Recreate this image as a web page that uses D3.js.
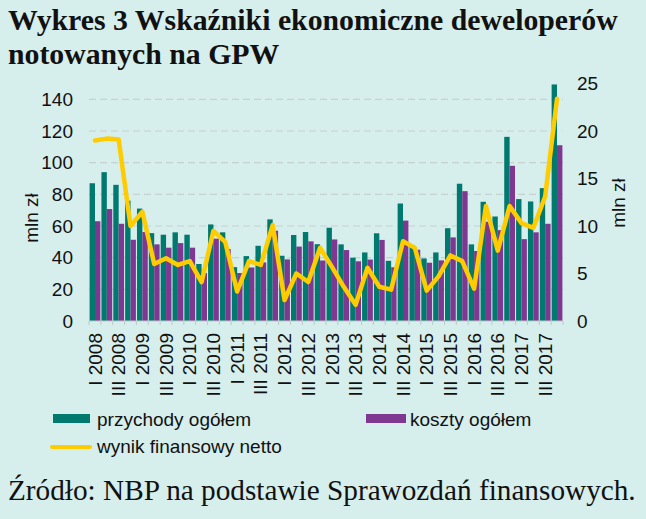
<!DOCTYPE html>
<html><head><meta charset="utf-8">
<script src="https://cdn.jsdelivr.net/npm/d3@7"></script>
<style>
html,body{margin:0;padding:0;background:#D6EEEC;}
svg{display:block;}
</style></head>
<body>
<script>
const categories = [
 "I 2008","II 2008","III 2008","IV 2008","I 2009","II 2009","III 2009","IV 2009",
 "I 2010","II 2010","III 2010","IV 2010","I 2011","II 2011","III 2011","IV 2011",
 "I 2012","II 2012","III 2012","IV 2012","I 2013","II 2013","III 2013","IV 2013",
 "I 2014","II 2014","III 2014","IV 2014","I 2015","II 2015","III 2015","IV 2015",
 "I 2016","II 2016","III 2016","IV 2016","I 2017","II 2017","III 2017","IV 2017"];
const revenue = [87,94,86,76,71,55.5,54.5,56,54.5,36,61,56,34,41,47.5,64.2,41.2,54.3,56.2,48.5,
 58.9,48.4,40,43.3,55.4,38,74.2,48,39.5,43.3,58.6,86.7,48.4,75.3,66,116.3,77,75.5,83.9,149.4];
const costs = [63,70.7,61.4,51.3,56.2,48.4,46.3,49.2,46.3,30.3,52,45.5,30.3,33.8,37,57,38.9,47,50.3,38.2,
 51.5,44.8,37.7,38.8,51.2,33.9,63.4,45,36.8,38.3,52.8,82,44.2,62.7,57.4,98,51.7,56,61.4,111];
const netResult = [19.0,19.2,19.1,10.0,11.5,6.0,6.6,5.9,6.3,4.1,9.5,8.3,3.1,6.3,5.9,10.1,2.2,5.0,4.1,7.7,
 5.7,3.6,1.7,5.6,3.6,3.3,8.4,7.7,3.2,4.7,6.9,6.3,3.4,12.1,7.4,12.1,10.3,9.8,13.1,23.4];
const leftTicks = [0,20,40,60,80,100,120,140];
const rightTicks = [0,5,10,15,20,25];
const seriesNames = ["przychody ogółem","koszty ogółem","wynik finansowy netto"];
const titleLines = ["Wykres 3 Wskaźniki ekonomiczne deweloperów","notowanych na GPW"];
const sourceText = "Źródło: NBP na podstawie Sprawozdań finansowych.";

const W=646,H=519;
const C_TEAL="#007A6E", C_PURPLE="#7E3891", C_YELLOW="#FFCC00";
const sans="'Liberation Sans', Arial, sans-serif";
const serif="'Liberation Serif', 'Times New Roman', serif";

const svg=d3.select("body").append("svg").attr("width",W).attr("height",H);
svg.append("rect").attr("width",W).attr("height",H).attr("fill","#D6EEEC");

function fit(sel,target){
  let fs=parseFloat(sel.attr("font-size"));
  const w=sel.node().getComputedTextLength();
  fs=fs*target/w; sel.attr("font-size",fs); return fs;
}

// title
const t1=svg.append("text").attr("x",8).attr("y",30).attr("font-family",serif)
  .attr("font-weight","bold").attr("font-size",24).attr("fill","#111").text(titleLines[0]);
const tfs=fit(t1,610);
svg.append("text").attr("x",8).attr("y",64).attr("font-family",serif)
  .attr("font-weight","bold").attr("font-size",tfs).attr("fill","#111").text(titleLines[1]);

const x=d3.scaleBand().domain(d3.range(categories.length)).range([89,563]).paddingInner(0.09).paddingOuter(0.05);
const yL=d3.scaleLinear().domain([0,150]).range([321,83.5]);
const yR=d3.scaleLinear().domain([0,25]).range([321,83.5]);

// gridlines
svg.append("g").selectAll("line").data(leftTicks.filter(d=>d>0)).join("line")
  .attr("x1",89).attr("x2",563).attr("y1",d=>yL(d)).attr("y2",d=>yL(d))
  .attr("stroke","#C5D2D0").attr("stroke-width",1.2).attr("stroke-dasharray","7,4");

// bars
const bw=x.bandwidth()/2;
svg.append("g").selectAll("rect").data(revenue).join("rect")
  .attr("x",(d,i)=>x(i)).attr("width",bw).attr("y",d=>yL(d)).attr("height",d=>yL(0)-yL(d)).attr("fill",C_TEAL);
svg.append("g").selectAll("rect").data(costs).join("rect")
  .attr("x",(d,i)=>x(i)+bw).attr("width",bw).attr("y",d=>yL(d)).attr("height",d=>yL(0)-yL(d)).attr("fill",C_PURPLE);

// bottom axis
const xa=svg.append("g").attr("transform","translate(0,321)");
xa.append("line").attr("x1",89).attr("x2",563).attr("stroke","#BFC9C8").attr("stroke-width",1);
xa.selectAll("line.tk").data(d3.range(categories.length+1)).join("line").attr("class","tk")
  .attr("x1",i=>89+i*(474/categories.length)).attr("x2",i=>89+i*(474/categories.length))
  .attr("y1",0).attr("y2",4).attr("stroke","#BFC9C8");
xa.selectAll("text").data(categories.map((c,i)=>({c,i})).filter(d=>d.i%2===0)).join("text")
  .attr("transform",d=>`translate(${x(d.i)+x.bandwidth()/2},12) rotate(-90)`)
  .attr("text-anchor","end").attr("dy","0.35em").attr("font-family",sans).attr("font-size",19)
  .attr("fill","#111").text(d=>d.c);

// left axis labels
svg.append("g").selectAll("text").data(leftTicks).join("text")
  .attr("x",73).attr("y",d=>yL(d)).attr("dy","0.35em").attr("text-anchor","end")
  .attr("font-family",sans).attr("font-size",19).attr("fill","#111").text(d=>d);
svg.append("g").selectAll("text").data(rightTicks).join("text")
  .attr("x",577).attr("y",d=>yR(d)).attr("dy","0.35em").attr("text-anchor","start")
  .attr("font-family",sans).attr("font-size",19).attr("fill","#111").text(d=>d);
svg.append("text").attr("transform","translate(38,218) rotate(-90)").attr("text-anchor","middle")
  .attr("font-family",sans).attr("font-size",19).attr("fill","#111").text("mln zł");
svg.append("text").attr("transform","translate(625,203) rotate(-90)").attr("text-anchor","middle")
  .attr("font-family",sans).attr("font-size",19).attr("fill","#111").text("mln zł");

// line
const line=d3.line().x((d,i)=>x(i)+x.bandwidth()/2).y(d=>yR(d));
svg.append("path").datum(netResult).attr("d",line).attr("fill","none")
  .attr("stroke",C_YELLOW).attr("stroke-width",4.5).attr("stroke-linejoin","round").attr("stroke-linecap","round");

// legend
const lg=svg.append("g").attr("font-family",sans).attr("font-size",19).attr("fill","#111");
lg.append("rect").attr("x",53).attr("y",414).attr("width",37).attr("height",9).attr("fill",C_TEAL);
lg.append("text").attr("x",97).attr("y",419).attr("dy","0.35em").text(seriesNames[0]);
lg.append("rect").attr("x",366).attr("y",414).attr("width",40).attr("height",9).attr("fill",C_PURPLE);
lg.append("text").attr("x",410).attr("y",419).attr("dy","0.35em").text(seriesNames[1]);
lg.append("line").attr("x1",52).attr("x2",90).attr("y1",447).attr("y2",447).attr("stroke",C_YELLOW).attr("stroke-width",4).attr("stroke-linecap","round");
lg.append("text").attr("x",97).attr("y",446).attr("dy","0.35em").text(seriesNames[2]);

// source
const src=svg.append("text").attr("x",8).attr("y",500).attr("font-family",serif)
  .attr("font-size",24).attr("fill","#111").text(sourceText);
fit(src,628);
</script>
</body></html>
